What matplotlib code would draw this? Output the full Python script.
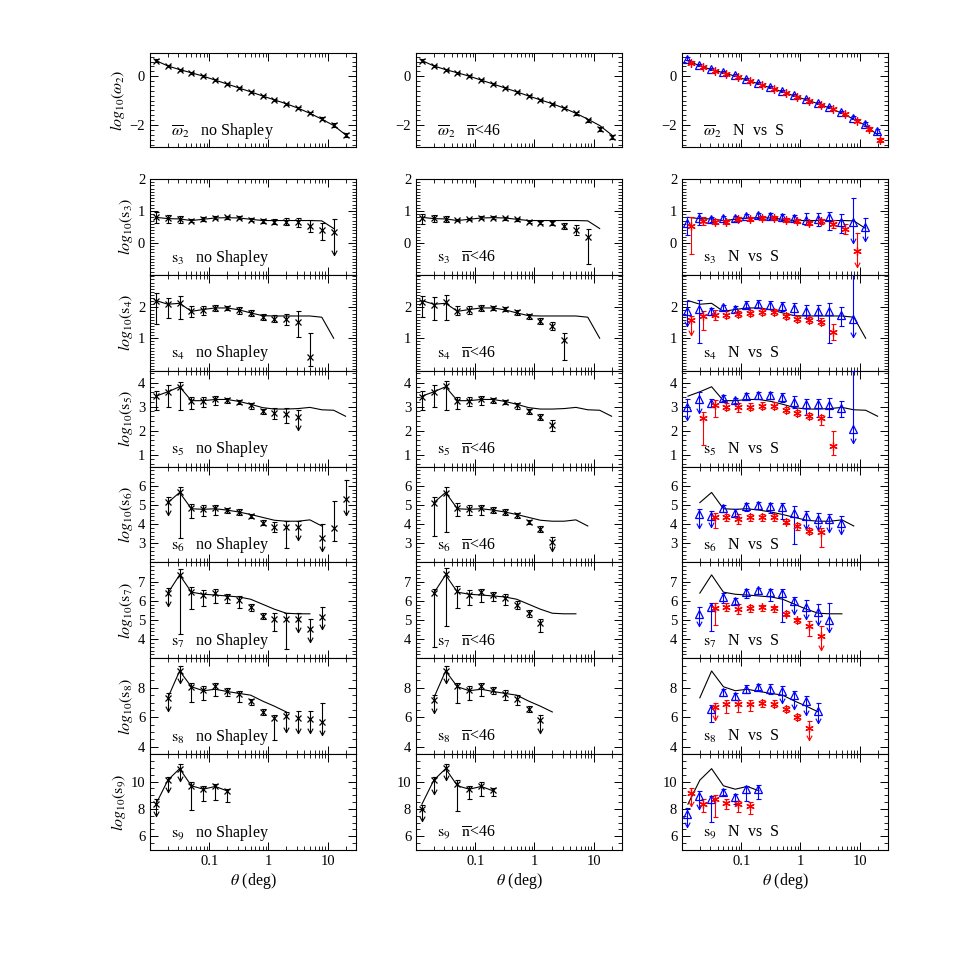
import matplotlib
matplotlib.use('Agg')
import matplotlib.pyplot as plt
from matplotlib.ticker import FixedLocator, MultipleLocator, LogLocator, NullFormatter, FixedFormatter
from matplotlib.path import Path

plt.rcParams['font.family'] = ['Liberation Serif', 'DejaVu Serif']
plt.rcParams['mathtext.fontset'] = 'stix'

# ---------------- data ----------------
THETA = [0.0126, 0.02, 0.0316, 0.05, 0.0794, 0.126, 0.2, 0.316, 0.5, 0.794,
         1.26, 2.0, 3.16, 5.0, 7.94, 12.6, 20.0]
X_TICKS = [0.1, 1, 10]
X_TICK_LABELS = ['0.1', '1', '10']

# full-sample reference curves (None = no value)
LINE_W2 = [0.64, 0.42, 0.27, 0.14, 0.0, -0.16, -0.32, -0.48, -0.64, -0.81, -0.97,
           -1.13, -1.31, -1.52, -1.76, -2.02, -2.40]
LINE_S3 = [0.80, 0.76, 0.75, 0.70, 0.74, 0.78, 0.79, 0.78, 0.74, 0.70, 0.70, 0.70,
           0.70, 0.70, 0.69, 0.45, None]
LINE_S4 = [2.22, 2.10, 2.13, 1.87, 1.93, 1.98, 1.98, 1.92, 1.82, 1.73, 1.72, 1.72,
           1.72, 1.72, 1.68, 1.00, None]
LINE_S5 = [3.44, 3.62, 3.83, 3.25, 3.25, 3.30, 3.30, 3.22, 3.10, 2.96, 2.90, 2.90,
           2.92, 2.97, 2.87, 2.85, 2.60]
LINE_S6 = [None, 5.12, 5.65, 4.80, 4.77, 4.80, 4.73, 4.63, 4.50, 4.35, 4.20, 4.15,
           4.15, 4.22, 3.90, None, None]
LINE_S7 = [None, 6.40, 7.35, 6.45, 6.34, 6.30, 6.25, 6.20, 6.08, 5.82, 5.56, 5.35,
           5.32, 5.32, None, None, None]
LINE_S8 = [None, 7.32, 9.14, 8.07, 7.80, 7.90, 7.75, 7.62, 7.50, 7.10, 6.75, 6.36,
           None, None, None, None, None]
LINE_S9 = [8.35, 10.10, 10.94, 9.69, 9.44, 9.64, 9.32, None, None, None, None, None,
           None, None, None, None, None]

# omega_2 measurements (value per theta bin) and symmetric errors
NOSH_W2 = [0.64, 0.41, 0.26, 0.14, 0.0, -0.16, -0.32, -0.48, -0.64, -0.81, -0.97,
           -1.12, -1.30, -1.51, -1.75, -2.00, -2.42]
CUT_W2 = [0.64, 0.41, 0.26, 0.14, 0.0, -0.16, -0.32, -0.48, -0.64, -0.81, -0.97,
          -1.12, -1.30, -1.52, -1.80, -2.16, -2.49]
N_W2 = [0.72, 0.47, 0.31, 0.18, 0.04, -0.12, -0.28, -0.44, -0.60, -0.77, -0.93,
        -1.08, -1.26, -1.46, -1.70, -1.95, -2.25]
S_W2 = [0.56, 0.37, 0.22, 0.10, -0.04, -0.20, -0.36, -0.52, -0.68, -0.85, -1.01,
        -1.16, -1.34, -1.56, -1.82, -2.16, -2.62]
W2_ERR = [0.05, 0.04, 0.04, 0.04, 0.04, 0.04, 0.04, 0.04, 0.04, 0.04, 0.04, 0.04,
          0.05, 0.05, 0.06, 0.07, 0.08]

# s_J measurements: (theta bin, value, lower end, upper end, upper-limit flag)
NOSH_S3 = [(0, 0.82, 0.61, 0.98, 0), (1, 0.77, 0.63, 0.87, 0), (2, 0.75, 0.63, 0.85, 0),
           (3, 0.69, 0.64, 0.74, 0), (4, 0.75, 0.70, 0.80, 0), (5, 0.79, 0.74, 0.84, 0),
           (6, 0.80, 0.75, 0.85, 0), (7, 0.79, 0.74, 0.84, 0), (8, 0.72, 0.67, 0.77, 0),
           (9, 0.68, 0.62, 0.74, 0), (10, 0.66, 0.58, 0.74, 0), (11, 0.66, 0.57, 0.77, 0),
           (12, 0.64, 0.50, 0.77, 0), (13, 0.53, 0.35, 0.72, 0), (14, 0.40, 0.08, 0.61, 0),
           (15, 0.35, -0.39, 0.74, 1)]
NOSH_S4 = [(0, 2.22, 1.45, 2.45, 0), (1, 2.11, 1.65, 2.30, 0), (2, 2.14, 1.62, 2.36, 0),
           (3, 1.87, 1.70, 2.05, 0), (4, 1.92, 1.76, 2.03, 0), (5, 1.98, 1.88, 2.06, 0),
           (6, 1.98, 1.90, 2.05, 0), (7, 1.90, 1.80, 2.00, 0), (8, 1.82, 1.73, 1.90, 0),
           (9, 1.70, 1.60, 1.80, 0), (10, 1.63, 1.51, 1.74, 0), (11, 1.63, 1.43, 1.79, 0),
           (12, 1.52, 1.05, 1.87, 0), (13, 0.40, 0.10, 1.16, 0)]
NOSH_S5 = [(0, 3.44, 2.86, 3.67, 0), (1, 3.62, 3.00, 3.90, 0), (2, 3.83, 2.86, 4.04, 0),
           (3, 3.25, 2.90, 3.41, 0), (4, 3.25, 3.00, 3.41, 0), (5, 3.32, 3.08, 3.45, 0),
           (6, 3.28, 3.15, 3.35, 0), (7, 3.20, 3.10, 3.28, 0), (8, 3.07, 2.92, 3.17, 0),
           (9, 2.81, 2.70, 2.90, 0), (10, 2.72, 2.47, 2.93, 0), (11, 2.69, 2.30, 2.93, 0),
           (12, 2.58, 2.03, 2.86, 1)]
NOSH_S6 = [(1, 5.14, 4.50, 5.42, 1), (2, 5.66, 3.30, 5.93, 0), (3, 4.82, 4.34, 5.07, 0),
           (4, 4.77, 4.43, 5.00, 0), (5, 4.85, 4.48, 5.02, 0), (6, 4.73, 4.56, 4.85, 0),
           (7, 4.63, 4.48, 4.77, 0), (8, 4.42, 4.30, 4.52, 0), (9, 4.08, 3.95, 4.20, 0),
           (10, 3.83, 3.58, 4.12, 0), (11, 3.83, 2.75, 4.14, 0), (12, 3.83, 3.15, 4.14, 1),
           (14, 3.30, 2.60, 4.00, 1), (15, 3.77, 3.10, 5.20, 0), (16, 5.30, 4.50, 6.30, 1)]
NOSH_S7 = [(1, 6.40, 5.73, 6.68, 1), (2, 7.35, 4.27, 7.64, 0), (3, 6.48, 5.57, 6.72, 0),
           (4, 6.28, 5.74, 6.55, 0), (5, 6.38, 5.90, 6.60, 0), (6, 6.19, 5.90, 6.33, 0),
           (7, 6.06, 5.63, 6.27, 0), (8, 5.68, 5.45, 5.84, 0), (9, 5.23, 5.03, 5.37, 0),
           (10, 5.03, 4.43, 5.38, 0), (11, 5.03, 3.48, 5.38, 0), (12, 5.03, 4.35, 5.38, 1),
           (13, 4.52, 3.83, 5.03, 1), (14, 5.13, 4.52, 5.65, 1)]
NOSH_S8 = [(1, 7.32, 6.41, 7.66, 1), (2, 9.14, 8.34, 9.48, 1), (3, 8.07, 7.02, 8.34, 0),
           (4, 7.84, 7.20, 8.11, 0), (5, 8.11, 7.43, 8.34, 0), (6, 7.77, 7.43, 8.00, 0),
           (7, 7.55, 7.02, 7.77, 0), (8, 7.09, 6.86, 7.27, 0), (9, 6.36, 6.18, 6.57, 0),
           (10, 5.95, 4.48, 6.18, 0), (11, 6.07, 4.98, 6.34, 1), (12, 5.95, 4.93, 6.41, 1),
           (13, 5.89, 4.93, 6.41, 1), (14, 5.66, 4.82, 6.98, 1)]
NOSH_S9 = [(0, 8.35, 7.45, 8.70, 1), (1, 10.10, 9.20, 10.36, 1), (2, 10.94, 10.05, 11.26, 1),
           (3, 9.69, 7.95, 9.98, 0), (4, 9.44, 8.60, 9.64, 0), (5, 9.64, 8.67, 9.81, 0),
           (6, 9.32, 8.53, 9.49, 0)]

CUT_S3 = [(0, 0.79, 0.60, 0.92, 0), (1, 0.77, 0.66, 0.87, 0), (2, 0.75, 0.66, 0.84, 0),
          (3, 0.72, 0.67, 0.76, 0), (4, 0.75, 0.71, 0.79, 0), (5, 0.79, 0.75, 0.83, 0),
          (6, 0.79, 0.75, 0.83, 0), (7, 0.77, 0.73, 0.81, 0), (8, 0.74, 0.70, 0.78, 0),
          (9, 0.66, 0.62, 0.70, 0), (10, 0.63, 0.58, 0.68, 0), (11, 0.61, 0.55, 0.67, 0),
          (12, 0.53, 0.45, 0.61, 0), (13, 0.40, 0.26, 0.56, 0), (14, 0.17, -0.65, 0.42, 0)]
CUT_S4 = [(0, 2.16, 1.70, 2.38, 0), (1, 2.09, 1.60, 2.33, 0), (2, 2.16, 1.60, 2.41, 0),
          (3, 1.89, 1.75, 2.03, 0), (4, 1.92, 1.80, 2.03, 0), (5, 1.98, 1.88, 2.06, 0),
          (6, 1.98, 1.90, 2.05, 0), (7, 1.95, 1.87, 2.02, 0), (8, 1.84, 1.76, 1.92, 0),
          (9, 1.71, 1.63, 1.79, 0), (10, 1.57, 1.47, 1.66, 0), (11, 1.40, 1.27, 1.54, 0),
          (12, 0.95, 0.29, 1.18, 0)]
CUT_S5 = [(0, 3.40, 2.85, 3.65, 0), (1, 3.62, 3.00, 3.90, 0), (2, 3.85, 2.86, 4.05, 0),
          (3, 3.25, 2.92, 3.42, 0), (4, 3.25, 3.02, 3.42, 0), (5, 3.30, 3.08, 3.44, 0),
          (6, 3.28, 3.15, 3.36, 0), (7, 3.20, 3.10, 3.28, 0), (8, 3.05, 2.92, 3.15, 0),
          (9, 2.82, 2.70, 2.92, 0), (10, 2.58, 2.45, 2.70, 0), (11, 2.22, 2.00, 2.45, 0)]
CUT_S6 = [(1, 5.10, 3.40, 5.40, 0), (2, 5.60, 3.60, 5.95, 0), (3, 4.85, 4.40, 5.08, 0),
          (4, 4.78, 4.45, 5.00, 0), (5, 4.85, 4.50, 5.02, 0), (6, 4.75, 4.58, 4.88, 0),
          (7, 4.65, 4.50, 4.78, 0), (8, 4.45, 4.32, 4.56, 0), (9, 4.10, 3.98, 4.22, 0),
          (10, 3.75, 3.60, 3.90, 0), (11, 3.05, 2.60, 3.35, 1)]
CUT_S7 = [(1, 6.39, 3.60, 6.64, 0), (2, 7.38, 4.70, 7.73, 0), (3, 6.50, 5.62, 6.77, 0),
          (4, 6.29, 5.80, 6.55, 0), (5, 6.45, 5.92, 6.64, 0), (6, 6.28, 5.97, 6.45, 0),
          (7, 6.15, 5.80, 6.33, 0), (8, 5.80, 5.55, 5.97, 0), (9, 5.37, 5.17, 5.51, 0),
          (10, 4.82, 4.37, 5.03, 0)]
CUT_S8 = [(1, 7.20, 6.30, 7.50, 1), (2, 9.14, 8.34, 9.48, 1), (3, 8.11, 6.98, 8.34, 0),
          (4, 7.84, 7.20, 8.11, 0), (5, 8.11, 7.43, 8.34, 0), (6, 7.84, 7.55, 8.07, 0),
          (7, 7.61, 7.20, 7.84, 0), (8, 7.27, 6.86, 7.50, 0), (9, 6.57, 6.36, 6.75, 0),
          (10, 5.84, 4.93, 6.18, 1)]
CUT_S9 = [(0, 8.00, 7.10, 8.32, 1), (1, 10.10, 9.06, 10.35, 1), (2, 10.96, 10.10, 11.28, 1),
          (3, 9.80, 7.83, 10.10, 0), (4, 9.48, 8.75, 9.68, 0), (5, 9.68, 8.93, 9.93, 0),
          (6, 9.38, 8.92, 9.55, 0)]

N_S3 = [(0, 0.63, 0.25, 0.82, 0), (1, 0.77, 0.56, 0.93, 0), (2, 0.74, 0.64, 0.82, 0),
        (3, 0.79, 0.72, 0.85, 0), (4, 0.77, 0.70, 0.83, 0), (5, 0.84, 0.77, 0.90, 0),
        (6, 0.87, 0.79, 0.95, 0), (7, 0.85, 0.76, 0.93, 0), (8, 0.82, 0.72, 0.90, 0),
        (9, 0.79, 0.68, 0.88, 0), (10, 0.72, 0.56, 0.93, 0), (11, 0.74, 0.53, 0.93, 0),
        (12, 0.80, 0.40, 0.98, 0), (13, 0.65, 0.30, 0.90, 0), (14, 0.65, 0.00, 1.40, 1),
        (15, 0.50, 0.05, 0.78, 1)]
S_S3 = [(0, 0.52, -0.34, 0.80, 0), (1, 0.69, 0.56, 0.80, 0), (2, 0.66, 0.58, 0.74, 0),
        (3, 0.66, 0.60, 0.72, 0), (4, 0.74, 0.68, 0.80, 0), (5, 0.74, 0.68, 0.80, 0),
        (6, 0.77, 0.71, 0.83, 0), (7, 0.77, 0.71, 0.83, 0), (8, 0.72, 0.65, 0.78, 0),
        (9, 0.68, 0.61, 0.75, 0), (10, 0.63, 0.55, 0.70, 0), (11, 0.68, 0.58, 0.76, 0),
        (12, 0.60, 0.48, 0.72, 0), (13, 0.45, 0.28, 0.60, 0), (14, -0.25, -0.75, 0.30, 1)]
N_S4 = [(0, 1.87, 1.38, 2.20, 1), (1, 1.95, 0.84, 2.25, 0), (2, 1.87, 1.76, 1.98, 0),
        (3, 2.00, 1.91, 2.09, 0), (4, 1.95, 1.85, 2.05, 0), (5, 2.09, 1.98, 2.20, 0),
        (6, 2.11, 1.98, 2.23, 0), (7, 2.09, 1.95, 2.20, 0), (8, 2.03, 1.87, 2.16, 0),
        (9, 1.98, 1.76, 2.14, 0), (10, 1.87, 1.65, 2.09, 0), (11, 1.87, 1.60, 2.09, 0),
        (12, 1.87, 0.84, 2.15, 0), (13, 1.75, 1.40, 2.00, 0), (14, 1.62, 1.05, 3.40, 1)]
S_S4 = [(0, 1.58, 1.10, 1.71, 1), (1, 1.71, 1.27, 1.87, 0), (2, 1.76, 1.60, 1.92, 0),
        (3, 1.76, 1.65, 1.87, 0), (4, 1.79, 1.70, 1.88, 0), (5, 1.82, 1.73, 1.91, 0),
        (6, 1.84, 1.75, 1.93, 0), (7, 1.84, 1.74, 1.94, 0), (8, 1.73, 1.63, 1.83, 0),
        (9, 1.63, 1.54, 1.72, 0), (10, 1.60, 1.50, 1.70, 0), (11, 1.54, 1.42, 1.66, 0),
        (12, 1.20, 0.95, 1.45, 0)]
N_S5 = [(0, 3.00, 2.44, 3.30, 1), (1, 3.30, 2.72, 3.60, 1), (2, 3.17, 3.00, 3.30, 0),
        (3, 3.35, 3.22, 3.49, 0), (4, 3.27, 3.15, 3.38, 0), (5, 3.44, 3.30, 3.58, 0),
        (6, 3.48, 3.32, 3.62, 0), (7, 3.48, 3.30, 3.62, 0), (8, 3.41, 3.20, 3.58, 0),
        (9, 3.20, 2.96, 3.44, 0), (10, 3.11, 2.65, 3.30, 0), (11, 3.11, 2.58, 3.30, 0),
        (12, 3.05, 2.55, 3.35, 0), (13, 2.95, 2.55, 3.25, 0), (14, 2.05, 1.50, 4.50, 1)]
S_S5 = [(1, 2.51, 1.39, 2.79, 0), (2, 3.07, 2.58, 3.28, 0), (3, 3.00, 2.86, 3.14, 0),
        (4, 2.97, 2.79, 3.14, 0), (5, 3.00, 2.86, 3.14, 0), (6, 3.04, 2.90, 3.18, 0),
        (7, 3.04, 2.90, 3.18, 0), (8, 2.86, 2.74, 2.98, 0), (9, 2.75, 2.62, 2.88, 0),
        (10, 2.61, 2.47, 2.72, 0), (11, 2.51, 2.23, 2.65, 0), (12, 1.35, 1.00, 2.00, 0)]
N_S6 = [(1, 4.52, 3.82, 4.80, 1), (2, 4.43, 3.87, 4.69, 1), (3, 4.86, 4.65, 4.98, 0),
        (4, 4.60, 4.43, 4.77, 0), (5, 4.95, 4.70, 5.08, 0), (6, 5.00, 4.78, 5.15, 0),
        (7, 4.95, 4.60, 5.12, 0), (8, 4.90, 4.28, 5.12, 0), (9, 4.57, 2.97, 4.94, 0),
        (10, 4.40, 3.75, 4.69, 1), (11, 4.29, 3.67, 4.60, 1), (12, 4.25, 3.60, 4.55, 1),
        (13, 4.05, 3.50, 4.40, 1)]
S_S6 = [(2, 4.35, 3.82, 4.60, 0), (3, 4.35, 4.17, 4.52, 0), (4, 4.29, 4.00, 4.52, 0),
        (5, 4.35, 4.17, 4.52, 0), (6, 4.35, 4.17, 4.52, 0), (7, 4.35, 4.17, 4.52, 0),
        (8, 4.12, 3.98, 4.25, 0), (9, 3.91, 3.70, 4.08, 0), (10, 3.65, 3.48, 3.82, 0),
        (11, 3.57, 2.80, 3.82, 0)]
N_S7 = [(1, 5.30, 4.70, 5.65, 1), (2, 5.65, 4.43, 5.90, 0), (3, 6.22, 5.90, 6.42, 0),
        (4, 6.00, 5.85, 6.15, 0), (5, 6.46, 6.17, 6.64, 0), (6, 6.55, 6.35, 6.68, 0),
        (7, 6.46, 5.97, 6.64, 0), (8, 6.39, 4.90, 6.60, 0), (9, 5.97, 5.30, 6.22, 1),
        (10, 5.70, 5.03, 6.05, 1), (11, 5.44, 4.75, 5.85, 1), (12, 5.00, 4.35, 5.90, 1)]
S_S7 = [(2, 5.60, 4.73, 5.87, 0), (3, 5.70, 5.48, 5.87, 0), (4, 5.56, 5.30, 5.82, 0),
        (5, 5.60, 5.43, 5.78, 0), (6, 5.65, 5.45, 5.80, 0), (7, 5.60, 5.43, 5.75, 0),
        (8, 5.32, 5.20, 5.45, 0), (9, 5.00, 4.86, 5.12, 0), (10, 4.66, 4.17, 4.95, 0),
        (11, 4.14, 3.45, 4.66, 1)]
N_S8 = [(2, 6.57, 5.66, 6.86, 0), (3, 7.70, 7.43, 7.93, 0), (4, 7.43, 7.20, 7.66, 0),
        (5, 7.93, 7.66, 8.16, 0), (6, 8.07, 7.84, 8.23, 0), (7, 7.93, 7.55, 8.23, 0),
        (8, 7.77, 6.98, 8.11, 1), (9, 7.48, 6.57, 7.77, 1), (10, 7.09, 6.18, 7.43, 1),
        (11, 6.41, 5.61, 6.98, 1)]
S_S8 = [(2, 6.70, 5.84, 6.98, 1), (3, 6.93, 6.30, 7.20, 0), (4, 6.93, 6.34, 7.16, 0),
        (5, 6.93, 6.41, 7.16, 0), (6, 6.98, 6.70, 7.20, 0), (7, 6.93, 6.70, 7.16, 0),
        (8, 6.57, 6.36, 6.75, 0), (9, 6.02, 5.80, 6.25, 0), (10, 5.27, 4.48, 5.73, 1)]
N_S9 = [(0, 7.64, 6.70, 8.10, 1), (1, 8.96, 8.00, 9.32, 1), (2, 8.73, 7.02, 8.96, 0),
        (3, 9.25, 9.01, 9.49, 0), (4, 8.84, 8.36, 9.08, 0), (5, 9.49, 8.60, 9.68, 0),
        (6, 9.49, 8.72, 9.73, 0)]
S_S9 = [(0, 9.15, 8.23, 9.50, 1), (1, 8.35, 7.80, 8.73, 0), (2, 8.73, 7.40, 9.00, 0),
        (3, 8.43, 7.99, 8.73, 0), (4, 8.36, 7.75, 8.60, 0), (5, 8.24, 7.66, 8.53, 0)]

ORDERS = ['3', '4', '5', '6', '7', '8', '9']
LINES = [LINE_S3, LINE_S4, LINE_S5, LINE_S6, LINE_S7, LINE_S8, LINE_S9]
NOSH = [NOSH_S3, NOSH_S4, NOSH_S5, NOSH_S6, NOSH_S7, NOSH_S8, NOSH_S9]
CUT = [CUT_S3, CUT_S4, CUT_S5, CUT_S6, CUT_S7, CUT_S8, CUT_S9]
NORTH = [N_S3, N_S4, N_S5, N_S6, N_S7, N_S8, N_S9]
SOUTH = [S_S3, S_S4, S_S5, S_S6, S_S7, S_S8, S_S9]
COLUMN_TAGS = ['no Shapley', r'$\overline{\mathrm{n}}$<46', 'N  vs  S']

# axis ranges / ticks per row (top row first)
YLIMS = [(-2.9, 0.95), (-1, 2), (-0.05, 3.05), (0.5, 4.5), (2, 7), (3, 8), (3.5, 10), (5, 12)]
YMAJOR = [[-2, 0], [0, 1, 2], [1, 2], [1, 2, 3, 4], [3, 4, 5, 6], [4, 5, 6, 7], [4, 6, 8], [6, 8, 10]]
YMINOR = [0.2, 0.1, 0.1, 0.2, 0.2, 0.2, 0.5, 0.5]

# ---------------- drawing ----------------
FIG_PX = 969.0
fig = plt.figure(figsize=(9.69, 9.69), dpi=100)

COL_LEFT = [150, 416, 682]
COL_W = 206
ROW_TOP = 179
ROW_H = (850 - 179) / 7.0

ARROW = Path([(-0.55, 1.0), (0.0, 0.0), (0.55, 1.0)],
             [Path.MOVETO, Path.LINETO, Path.LINETO])


def w2_points(vals):
    return [(k, v, v - e, v + e, 0) for k, (v, e) in enumerate(zip(vals, W2_ERR))]


def draw_points(ax, pts, color, marker, ms, shift=1.0, mfc=None):
    for (k, v, lo, hi, ul) in pts:
        x = THETA[k] * shift
        if ul:
            ax.plot([x, x], [lo, hi], color=color, lw=0.8, zorder=3)
            ax.plot([x], [hi], marker='_', ms=3.6, mew=0.8, color=color, zorder=3)
            ax.plot([x], [lo], marker=ARROW, ms=7, mew=0.8, color=color,
                    fillstyle='none', zorder=3)
        else:
            ax.errorbar([x], [v], yerr=[[v - lo], [hi - v]], fmt='none', ecolor=color,
                        elinewidth=0.8, capsize=1.8, capthick=0.8, zorder=3)
        ax.plot([x], [v], marker=marker, ms=ms, mew=0.9, color=color,
                mfc=mfc if mfc is not None else color, zorder=4, linestyle='none')


def draw_line(ax, vals):
    xs = [t for t, v in zip(THETA, vals) if v is not None]
    ys = [v for v in vals if v is not None]
    ax.plot(xs, ys, color='black', lw=0.8, zorder=2)


def style_axes(ax, row, col, bottom):
    ax.set_xscale('log')
    ax.set_xlim(0.01, 30)
    ax.set_ylim(*YLIMS[row])
    ax.xaxis.set_major_locator(FixedLocator(X_TICKS))
    ax.xaxis.set_minor_locator(LogLocator(base=10, subs=[2, 3, 4, 5, 6, 7, 8, 9], numticks=20))
    ax.xaxis.set_minor_formatter(NullFormatter())
    if bottom:
        ax.xaxis.set_major_formatter(FixedFormatter(X_TICK_LABELS))
    else:
        ax.xaxis.set_major_formatter(NullFormatter())
    ax.yaxis.set_major_locator(FixedLocator(YMAJOR[row]))
    ax.yaxis.set_minor_locator(MultipleLocator(YMINOR[row]))
    ax.yaxis.set_major_formatter(FixedFormatter(
        [(u'\u2212%d' % -t) if t < 0 else '%d' % t for t in YMAJOR[row]]))
    ax.tick_params(which='both', direction='in', top=True, right=True, labelsize=10.5)
    ax.tick_params(which='major', length=6, width=0.7)
    ax.tick_params(which='minor', length=3, width=0.6)
    for sp in ax.spines.values():
        sp.set_linewidth(0.8)


# top row: omega_2
top_sets = [(w2_points(NOSH_W2), None), (w2_points(CUT_W2), None),
            (w2_points(N_W2), w2_points(S_W2))]
for col in range(3):
    ax = fig.add_axes([COL_LEFT[col] / FIG_PX, 1 - 147 / FIG_PX, COL_W / FIG_PX, 94 / FIG_PX])
    style_axes(ax, 0, col, False)
    draw_line(ax, LINE_W2)
    main, south = top_sets[col]
    if col < 2:
        draw_points(ax, main, 'black', 'x', 4.5)
    else:
        draw_points(ax, main, 'blue', '^', 5.5, 0.97, mfc='none')
        draw_points(ax, south, 'red', (6, 2, 0), 6, 1.12)
    ax.text(0.1, 0.17, r'$\overline{\omega}_2$   ' + COLUMN_TAGS[col], transform=ax.transAxes,
            va='center', ha='left', fontsize=11.5)
    if col == 0:
        ax.set_ylabel(r'$\mathit{log}_{10}(\omega_2)$', fontsize=11.5, labelpad=2)

# s_J rows
for i, order in enumerate(ORDERS):
    top = ROW_TOP + i * ROW_H
    bottom_px = top + ROW_H
    for col in range(3):
        ax = fig.add_axes([COL_LEFT[col] / FIG_PX, 1 - bottom_px / FIG_PX,
                           COL_W / FIG_PX, ROW_H / FIG_PX])
        style_axes(ax, i + 1, col, i == len(ORDERS) - 1)
        draw_line(ax, LINES[i])
        if col == 0:
            draw_points(ax, NOSH[i], 'black', 'x', 4.5)
        elif col == 1:
            draw_points(ax, CUT[i], 'black', 'x', 4.5)
        else:
            draw_points(ax, NORTH[i], 'blue', '^', 5.5, 0.97, mfc='none')
            draw_points(ax, SOUTH[i], 'red', (6, 2, 0), 6, 1.12)
        ax.text(0.1, 0.18, r'$\mathrm{s}_{%s}$   ' % order + COLUMN_TAGS[col],
                transform=ax.transAxes, va='center', ha='left', fontsize=11.5)
        if col == 0:
            ax.set_ylabel(r'$\mathit{log}_{10}(\mathrm{s}_{%s})$' % order, fontsize=11.5,
                          labelpad=2)
        if i == len(ORDERS) - 1:
            ax.set_xlabel(r'$\theta$ (deg)', fontsize=11.5, labelpad=2)

fig.savefig('out.png', dpi=100)
